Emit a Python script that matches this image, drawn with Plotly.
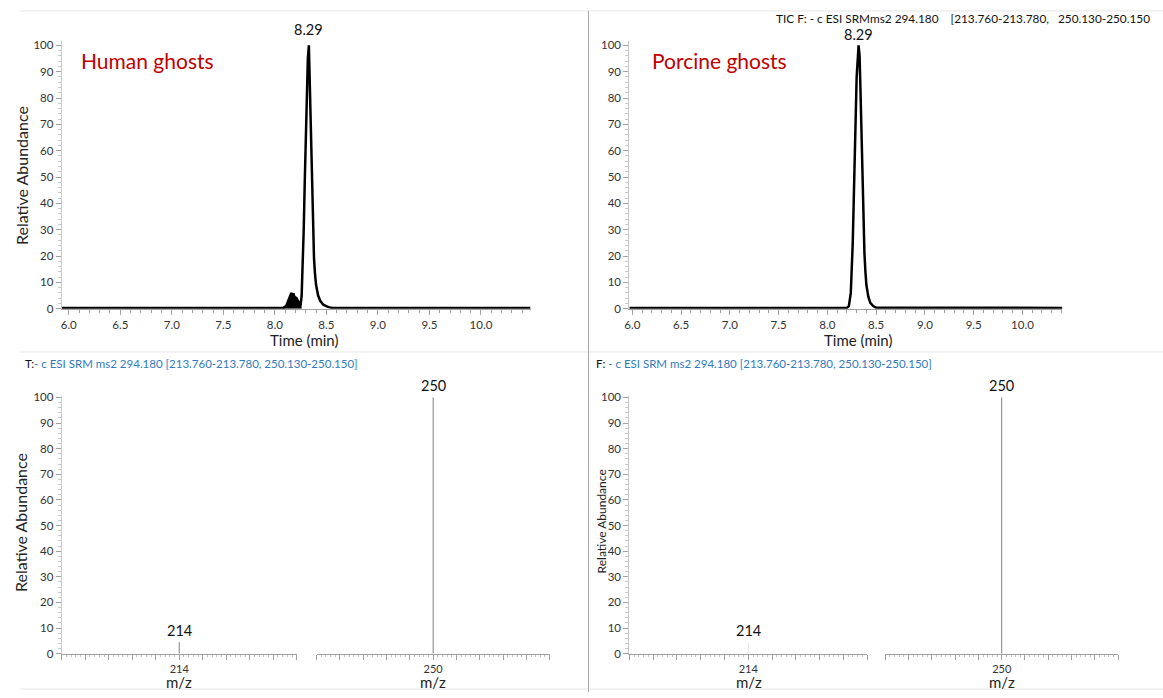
import plotly.graph_objects as go
import numpy as np

# ---------------- data ----------------
# Chromatogram, human ghosts (time in min, relative abundance %)
human_time = [5.93, 8.08, 8.11, 8.13, 8.15, 8.16, 8.17, 8.18, 8.19, 8.21, 8.23, 8.25, 8.26, 8.27, 8.28,
              8.29, 8.30, 8.31, 8.32, 8.33, 8.34, 8.35, 8.36, 8.37, 8.38, 8.39, 8.40,
              8.42, 8.44, 8.47, 8.52, 8.56, 10.48]
human_int = [0.3, 0.3, 1.0, 3.0, 4.5, 6.0, 5.0, 5.8, 4.5, 4.0, 2.5, 1.5, 5.0, 15.0, 30.0,
             48.0, 65.0, 80.0, 95.0, 100.0, 82.0, 60.0, 42.0, 28.0, 19.0, 13.0, 9.0,
             5.0, 3.0, 1.5, 0.6, 0.3, 0.3]
human_shoulder = (1, 12)  # index span of the filled shoulder

# Chromatogram, porcine ghosts
porcine_time = [5.97, 8.20, 8.22, 8.24, 8.26, 8.28, 8.30, 8.32, 8.33, 8.34, 8.35, 8.36,
                8.37, 8.38, 8.39, 8.40, 8.42, 8.44, 8.47, 8.50, 10.41]
porcine_int = [0.3, 0.3, 1.0, 6.0, 25.0, 58.0, 88.0, 100.0, 96.0, 82.0, 64.0, 46.0,
               32.0, 21.0, 14.0, 9.0, 4.5, 2.2, 1.0, 0.4, 0.3]

peak_label = "8.29"
human_peak_rt = 8.33
porcine_peak_rt = 8.32

# Spectra (m/z, relative abundance)
mz_values = [214, 250]
human_mz_int = [4.5, 100]
porcine_mz_int = [4.0, 100]

W, H = 1163, 698
FONT = "Lato"
AX_COL = "#a0a0a0"
TICK_FONT = dict(family=FONT, size=11.5, color="#333333")


def px_x(p):
    return p / W


def px_y(p):
    return 1 - p / H


fig = go.Figure()

# ---- chromatograms ----
fig.add_trace(go.Scatter(x=human_time, y=human_int, mode="lines",
                         line=dict(color="black", width=2.5), xaxis="x", yaxis="y",
                         showlegend=False, hoverinfo="skip"))
s0, s1 = human_shoulder
fig.add_trace(go.Scatter(x=human_time[s0:s1 + 1], y=human_int[s0:s1 + 1], mode="lines",
                         line=dict(color="black", width=1), fill="tozeroy", fillcolor="black",
                         xaxis="x", yaxis="y", showlegend=False, hoverinfo="skip"))
fig.add_trace(go.Scatter(x=porcine_time, y=porcine_int, mode="lines",
                         line=dict(color="black", width=2.5), xaxis="x2", yaxis="y2",
                         showlegend=False, hoverinfo="skip"))


# ---- spectra sticks ----
def stick(mz, inten, xa, ya, color):
    fig.add_trace(go.Scatter(x=[mz, mz], y=[0, inten], mode="lines",
                             line=dict(color=color, width=1), xaxis=xa, yaxis=ya,
                             showlegend=False, hoverinfo="skip"))


stick(mz_values[0], human_mz_int[0], "x3", "y3", "#808080")
stick(mz_values[1], human_mz_int[1], "x4", "y3", "#808080")
stick(mz_values[0], porcine_mz_int[0], "x5", "y4", "#e0e0e0")
stick(mz_values[1], porcine_mz_int[1], "x6", "y4", "#808080")


def xaxis_time(dom, rng, anchor):
    return dict(domain=[px_x(dom[0]), px_x(dom[1])], range=rng, anchor=anchor,
                tickmode="linear", tick0=6.0, dtick=0.5, tickformat=".1f",
                ticks="outside", ticklen=5, tickcolor=AX_COL, tickwidth=1,
                minor=dict(dtick=0.1, tick0=6.0, ticks="outside", ticklen=3, tickcolor=AX_COL,
                           showgrid=False),
                showline=True, linecolor=AX_COL, linewidth=1, showgrid=False, zeroline=False,
                tickfont=TICK_FONT, fixedrange=True)


def yaxis_rel(dom, rng, anchor):
    return dict(domain=[px_y(dom[0]), px_y(dom[1])], range=rng, anchor=anchor,
                tickmode="linear", tick0=0, dtick=10,
                ticks="outside", ticklen=5, tickcolor=AX_COL, tickwidth=1,
                minor=dict(dtick=2, tick0=0, ticks="outside", ticklen=3, tickcolor="#c8c8c8",
                           showgrid=False),
                showline=True, linecolor="#c8c8c8", linewidth=1, showgrid=False, zeroline=False,
                tickfont=TICK_FONT, fixedrange=True)


def xaxis_mz(dom, center, anchor):
    vals = [round(v, 2) for v in np.arange(center - 0.5, center + 0.501, 0.1)]
    text = [str(center) if abs(v - center) < 1e-6 else "" for v in vals]
    return dict(domain=[px_x(dom[0]), px_x(dom[1])], range=[center - 0.5, center + 0.5],
                anchor=anchor, tickmode="array", tickvals=vals, ticktext=text,
                ticks="outside", ticklen=5, tickcolor=AX_COL, tickwidth=1,
                minor=dict(tickmode="linear", tick0=center, dtick=0.02, ticks="outside",
                           ticklen=2.5, tickcolor="#c0c0c0", showgrid=False),
                showline=True, linecolor=AX_COL, linewidth=1, showgrid=False, zeroline=False,
                tickfont=dict(family=FONT, size=11, color="#333333"), fixedrange=True)


fig.update_layout(
    width=W, height=H,
    margin=dict(l=0, r=0, t=0, b=0),
    paper_bgcolor="white", plot_bgcolor="white",
    font=dict(family=FONT, color="#222222"),
    xaxis=xaxis_time((57, 528), [5.932, 10.483], "y"),
    yaxis=yaxis_rel((308, 36), [0, 101.5], "x"),
    xaxis2=xaxis_time((627, 1062), [5.969, 10.41], "y2"),
    yaxis2=yaxis_rel((308, 36), [0, 101.5], "x2"),
    xaxis3=xaxis_mz((57, 293), mz_values[0], "y3"),
    xaxis4=xaxis_mz((313, 547), mz_values[1], "y3"),
    yaxis3=yaxis_rel((659, 397), [0, 100.5], "x3"),
    xaxis5=xaxis_mz((627, 866), mz_values[0], "y4"),
    xaxis6=xaxis_mz((884, 1118), mz_values[1], "y4"),
    yaxis4=yaxis_rel((659, 397), [0, 100.5], "x5"),
)

ann = []


def text(x, y, t, size, color="#222222", angle=0, xanchor="center", yanchor="middle"):
    ann.append(dict(x=px_x(x), y=px_y(y), xref="paper", yref="paper", text=t, showarrow=False,
                    font=dict(family=FONT, size=size, color=color), textangle=angle,
                    xanchor=xanchor, yanchor=yanchor))


# panel labels
text(74, 55, "Human ghosts", 21, "#c00000", xanchor="left")
text(648, 55, "Porcine ghosts", 21, "#c00000", xanchor="left")

# axis titles
text(16, 172, "Relative Abundance", 16, angle=-90)
text(300, 340, "Time (min)", 15)
text(857, 340, "Time (min)", 15)
text(16, 525, "Relative Abundance", 16, angle=-90)
text(600, 524, "Relative Abundance", 12, angle=-90)
for xx in (175, 430, 747, 1001):
    text(xx, 688, "m/z", 15)

# headers
nb = "\u00a0"
text(772, 13, "TIC F: - c ESI SRMms2 294.180" + nb * 4 + "[213.760-213.780," + nb * 3
     + "250.130-250.150", 11.8, "#111111", xanchor="left")
blue = "#2f7bbf"
text(18, 364, "T:<span style='color:%s'>- c ESI SRM ms2 294.180 [213.760-213.780, 250.130-250.150]</span>"
     % blue, 11.5, "#111111", xanchor="left")
text(592, 364, "F: <span style='color:%s'>- c ESI SRM ms2 294.180 [213.760-213.780, 250.130-250.150]</span>"
     % blue, 11.5, "#111111", xanchor="left")

# peak labels
ann.append(dict(x=human_peak_rt, y=100, xref="x", yref="y", text=peak_label, showarrow=False,
                yanchor="bottom", yshift=5, font=dict(family=FONT, size=14.5, color="#111111")))
ann.append(dict(x=porcine_peak_rt, y=100, xref="x2", yref="y2", text=peak_label, showarrow=False,
                yanchor="bottom", yshift=0, font=dict(family=FONT, size=14.5, color="#111111")))
for xa, mz, inten in (("x3", mz_values[0], human_mz_int[0]), ("x4", mz_values[1], human_mz_int[1]),
                      ("x5", mz_values[0], human_mz_int[0]), ("x6", mz_values[1], porcine_mz_int[1])):
    ya = "y3" if xa in ("x3", "x4") else "y4"
    ann.append(dict(x=mz, y=inten, xref=xa, yref=ya, text=str(mz), showarrow=False,
                    yanchor="bottom", yshift=1, font=dict(family=FONT, size=14.5, color="#111111")))

fig.update_layout(annotations=ann)

# separators
shapes = [
    dict(type="line", xref="paper", yref="paper", x0=px_x(15), x1=1, y0=px_y(5), y1=px_y(5),
         line=dict(color="#e6e6e6", width=1)),
    dict(type="line", xref="paper", yref="paper", x0=px_x(15), x1=1, y0=px_y(352), y1=px_y(352),
         line=dict(color="#e6e6e6", width=1)),
    dict(type="line", xref="paper", yref="paper", x0=px_x(15), x1=1, y0=px_y(695), y1=px_y(695),
         line=dict(color="#e6e6e6", width=1)),
    dict(type="line", xref="paper", yref="paper", x0=px_x(586), x1=px_x(586), y0=px_y(5), y1=0,
         line=dict(color="#a6a6a6", width=1)),
]
fig.update_layout(shapes=shapes)

fig.write_html("out.html")
